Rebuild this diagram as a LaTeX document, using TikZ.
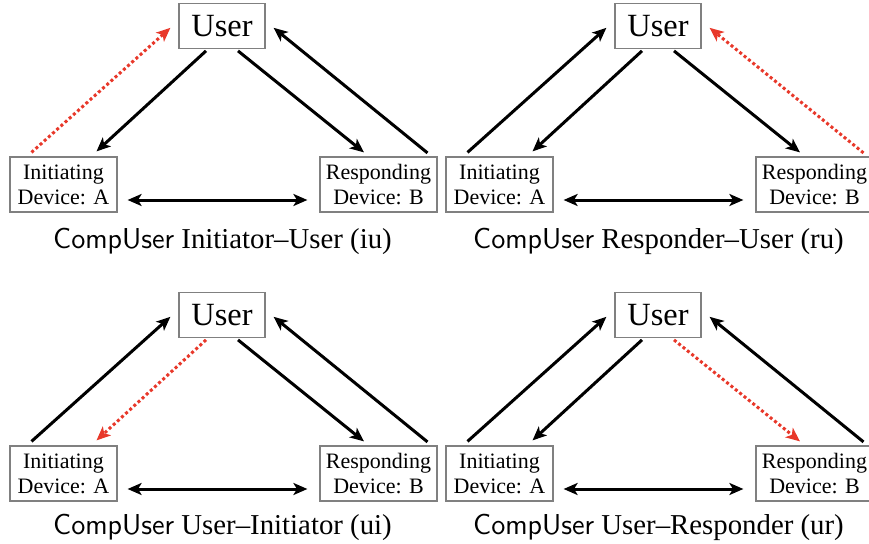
\documentclass[tikz,border=0pt]{standalone}
\usepackage{fontspec}
\setmainfont{Liberation Serif}
\usetikzlibrary{arrows.meta}

\definecolor{relayred}{RGB}{232,56,42}

\begin{document}
\begin{tikzpicture}[x=1pt,y=1pt,
  hd/.tip={Stealth[length=7pt,width=6pt,inset=1.8pt]},
  userbox/.style={draw=gray,line width=0.6pt,minimum width=43pt,minimum height=22.5pt,inner sep=0pt,font=\fontsize{16.2}{18}\selectfont},
  devbox/.style={draw=gray,line width=0.6pt,minimum height=27.5pt,inner sep=0pt,align=center,font=\fontsize{11}{12.5}\selectfont},
  capt/.style={anchor=base,font=\fontsize{14.4}{16}\selectfont},
  link/.style={line width=1.5pt,-{hd}},
  both/.style={line width=1.5pt,{hd}-{hd},shorten <=5pt,shorten >=6pt},
  relay/.style={relayred,dash pattern=on 1.5pt off 1.3pt}]
%\draw[step=10pt,gray,very thin] (0,0) grid (434.5,271.5);
\useasboundingbox (0,0) rectangle (434.5,271.5);

% initiator--user
\begin{scope}
\node[userbox] (iu-user) at (111,258.6) {User};
\node[devbox,minimum width=53.5pt] (iu-init) at (31.75,179.25) {Initiating\\Device: A};
\node[devbox,minimum width=58.5pt] (iu-resp) at (189.25,179.25) {Responding\\Device: B};
\node[capt] (iu-cap) at (111.25,147.5) {\textsf{CompUser} Initiator--User (iu)};
\draw[link,relay] ([shift={(-16pt,2pt)}]iu-init.north) -- ([shift={(-4pt,-1pt)}]iu-user.west);
\draw[link] ([shift={(-8pt,-1pt)}]iu-user.south) -- ([shift={(16.5pt,2.5pt)}]iu-init.north);
\draw[link] ([shift={(8pt,-1pt)}]iu-user.south) -- ([shift={(-7.25pt,2pt)}]iu-resp.north);
\draw[link] ([shift={(24.5pt,1.75pt)}]iu-resp.north) -- ([shift={(4pt,-1pt)}]iu-user.east);
\draw[both] ([yshift=-7.75pt]iu-init.east) -- ([yshift=-7.75pt]iu-resp.west);
\end{scope}

% responder--user
\begin{scope}[shift={(218,0)}]
\node[userbox] (ru-user) at (111,258.6) {User};
\node[devbox,minimum width=53.5pt] (ru-init) at (31.75,179.25) {Initiating\\Device: A};
\node[devbox,minimum width=58.5pt] (ru-resp) at (189.25,179.25) {Responding\\Device: B};
\node[capt] (ru-cap) at (111.25,147.5) {\textsf{CompUser} Responder--User (ru)};
\draw[link] ([shift={(-16pt,2pt)}]ru-init.north) -- ([shift={(-4pt,-1pt)}]ru-user.west);
\draw[link] ([shift={(-8pt,-1pt)}]ru-user.south) -- ([shift={(16.5pt,2.5pt)}]ru-init.north);
\draw[link] ([shift={(8pt,-1pt)}]ru-user.south) -- ([shift={(-7.25pt,2pt)}]ru-resp.north);
\draw[link,relay] ([shift={(24.5pt,1.75pt)}]ru-resp.north) -- ([shift={(4pt,-1pt)}]ru-user.east);
\draw[both] ([yshift=-7.75pt]ru-init.east) -- ([yshift=-7.75pt]ru-resp.west);
\end{scope}

% user--initiator
\begin{scope}[shift={(0,-144.5)}]
\node[userbox] (ui-user) at (111,258.6) {User};
\node[devbox,minimum width=53.5pt] (ui-init) at (31.75,179.25) {Initiating\\Device: A};
\node[devbox,minimum width=58.5pt] (ui-resp) at (189.25,179.25) {Responding\\Device: B};
\node[capt] (ui-cap) at (111.25,149) {\textsf{CompUser} User--Initiator (ui)};
\draw[link] ([shift={(-16pt,2pt)}]ui-init.north) -- ([shift={(-4pt,-1pt)}]ui-user.west);
\draw[link,relay] ([shift={(-8pt,-1pt)}]ui-user.south) -- ([shift={(16.5pt,2.5pt)}]ui-init.north);
\draw[link] ([shift={(8pt,-1pt)}]ui-user.south) -- ([shift={(-7.25pt,2pt)}]ui-resp.north);
\draw[link] ([shift={(24.5pt,1.75pt)}]ui-resp.north) -- ([shift={(4pt,-1pt)}]ui-user.east);
\draw[both] ([yshift=-7.75pt]ui-init.east) -- ([yshift=-7.75pt]ui-resp.west);
\end{scope}

% user--responder
\begin{scope}[shift={(218,-144.5)}]
\node[userbox] (ur-user) at (111,258.6) {User};
\node[devbox,minimum width=53.5pt] (ur-init) at (31.75,179.25) {Initiating\\Device: A};
\node[devbox,minimum width=58.5pt] (ur-resp) at (189.25,179.25) {Responding\\Device: B};
\node[capt] (ur-cap) at (111.25,149) {\textsf{CompUser} User--Responder (ur)};
\draw[link] ([shift={(-16pt,2pt)}]ur-init.north) -- ([shift={(-4pt,-1pt)}]ur-user.west);
\draw[link] ([shift={(-8pt,-1pt)}]ur-user.south) -- ([shift={(16.5pt,2.5pt)}]ur-init.north);
\draw[link,relay] ([shift={(8pt,-1pt)}]ur-user.south) -- ([shift={(-7.25pt,2pt)}]ur-resp.north);
\draw[link] ([shift={(24.5pt,1.75pt)}]ur-resp.north) -- ([shift={(4pt,-1pt)}]ur-user.east);
\draw[both] ([yshift=-7.75pt]ur-init.east) -- ([yshift=-7.75pt]ur-resp.west);
\end{scope}

\end{tikzpicture}
\end{document}
